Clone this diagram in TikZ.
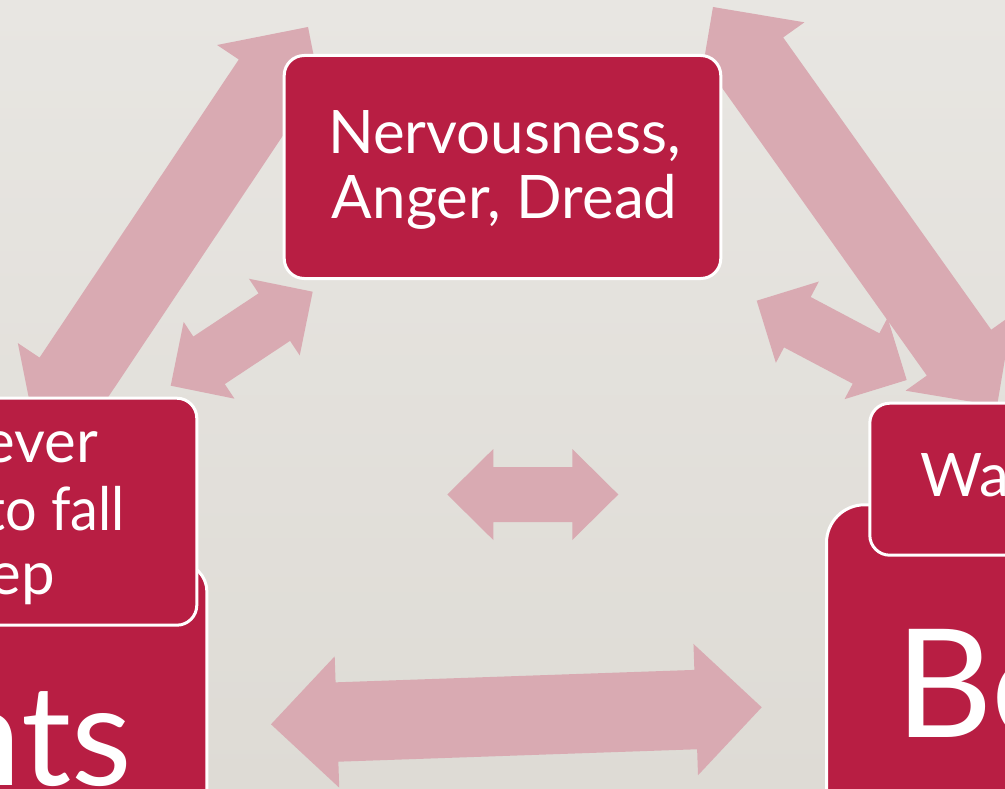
\documentclass[tikz,border=0pt]{standalone}
\usepackage{fontspec}
\setmainfont{Lato}
\usetikzlibrary{calc}
\definecolor{crim}{HTML}{B81E43}
\definecolor{pinkarr}{HTML}{D9AAB2}
\definecolor{bgtop}{HTML}{E8E6E2}
\definecolor{bgbot}{HTML}{DEDBD5}
\tikzset{
  arrowfill/.style={fill=pinkarr},
  box/.style={draw=white, line width=3pt, fill=crim, rounded corners=20pt, inner sep=0pt},
  label/.style={text=white, inner sep=0pt, font=\fontsize{60}{65}\selectfont},
  biglabel/.style={text=white, inner sep=0pt},
}
\newcommand{\dblarrow}[5]{%
  \coordinate (ha) at ($(#1)!#4!(#2)$);
  \coordinate (hb) at ($(#2)!#4!(#1)$);
  \fill[arrowfill] (#1) -- ($(ha)!#5!90:(#2)$) -- ($(ha)!#3!90:(#2)$)
    -- ($(hb)!#3!-90:(#1)$) -- ($(hb)!#5!-90:(#1)$) -- (#2)
    -- ($(hb)!#5!90:(#1)$) -- ($(hb)!#3!90:(#1)$)
    -- ($(ha)!#3!-90:(#2)$) -- ($(ha)!#5!-90:(#2)$) -- cycle;}
\begin{document}
\begin{tikzpicture}[x=1pt,y=-1pt]
\useasboundingbox (0,0) rectangle (1005,789);
\fill[top color=bgtop, bottom color=bgbot] (0,0) rectangle (1005,789);

% arrow end points
\coordinate (a1a) at (308,27);
\coordinate (a1b) at (36,434);
\coordinate (a2a) at (713,7);
\coordinate (a2b) at (997,406);
\coordinate (a3a) at (312.7,291.7);
\coordinate (a3b) at (170.7,385.7);
\coordinate (a4a) at (756.7,300.7);
\coordinate (a4b) at (906.7,380);
\coordinate (a5a) at (447.3,494.5);
\coordinate (a5b) at (618.3,494.5);
\coordinate (a6a) at (271,724.3);
\coordinate (a6b) at (761.7,707.3);

\dblarrow{a1a}{a1b}{39.5pt}{65.5pt}{65.6pt}
\dblarrow{a2a}{a2b}{39.5pt}{65.5pt}{65.6pt}
\dblarrow{a3a}{a3b}{28.5pt}{46pt}{46pt}
\dblarrow{a4a}{a4b}{28.5pt}{46pt}{46pt}
\dblarrow{a5a}{a5b}{27.5pt}{46pt}{45.5pt}
\dblarrow{a6a}{a6b}{39.7pt}{66pt}{65.7pt}

% left lower box
\node[box, rounded corners=28pt, minimum width=306.8pt, minimum height=336.8pt] (lowleft) at (53.4,731.6) {};
\node[biglabel, anchor=base east, font=\fontsize{140}{150}\selectfont] (nts) at (132,785) {nts};
% left upper box
\node[box, minimum width=296.8pt, minimum height=227pt] (upleft) at (48.4,511.7) {};
\node[label, anchor=base east] (l1) at (98,462.7) {ever};
\node[label, anchor=base east] (l2) at (125,530) {\scalebox{0.93}[1]{to fall}};
\node[label, anchor=base east] (l3) at (55,594) {ep};

% right lower box
\node[box, rounded corners=38pt, minimum width=278.5pt, minimum height=395.2pt] (lowright) at (965.75,702.4) {};
\node[biglabel, anchor=base west, font=\fontsize{151}{160}\selectfont] (be) at (895,737) {Be};
% right upper box
\node[box, minimum width=235.2pt, minimum height=152pt] (upright) at (987.4,479.2) {};
\node[label, anchor=base west] (wa) at (920,496.7) {Wa};

% top box
\node[box, minimum width=436.6pt, minimum height=223pt] (top) at (502.5,167) {};
\node[label, align=center, anchor=base] (t1) at (504.7,153.3) {Nervousness,};
\node[label, align=center, anchor=base] (t2) at (504.7,218.3) {Anger, Dread};
\end{tikzpicture}
\end{document}
